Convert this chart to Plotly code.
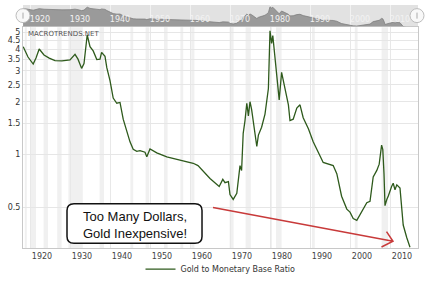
import plotly.graph_objects as go
import math

# ---- data ----
years = [1918.3, 1919.5, 1920.8, 1921.5, 1922.3, 1923.5, 1924.8, 1926.25, 1928.0, 1930.0, 1931.25,
         1932.0, 1932.9, 1933.5, 1934.3, 1935.0, 1935.8, 1936.7, 1937.5, 1937.9, 1938.75, 1939.2,
         1940.0, 1940.8, 1941.7, 1942.5, 1943.3, 1944.2, 1945.0, 1945.8, 1946.7, 1947.5, 1948.75,
         1949.2, 1950.0, 1951.7, 1954.2, 1957.5, 1960.8, 1962.0, 1965.0, 1967.3, 1968.2, 1968.75,
         1969.6, 1970.0, 1970.8, 1971.7, 1972.5, 1972.9, 1973.3, 1973.75, 1974.2, 1974.6, 1975.0,
         1975.4, 1976.7, 1977.1, 1977.9, 1978.75, 1979.2, 1979.6, 1980.0, 1980.4, 1980.7, 1981.25,
         1981.7, 1982.3, 1982.9, 1983.75, 1984.6, 1985.0, 1985.8, 1986.7, 1987.5, 1988.3, 1989.6,
         1990.8, 1992.5, 1993.3, 1995.8, 1996.7, 1997.9, 1999.2, 2000.0, 2000.8, 2001.7, 2002.9,
         2004.2, 2005.0, 2005.8, 2006.7, 2007.3, 2007.9, 2008.2, 2008.5, 2008.75, 2009.2, 2009.6,
         2010.4, 2010.8, 2011.25, 2011.7, 2012.5, 2012.9, 2013.3, 2014.2, 2015.0]
ratio = [4.12, 3.6, 3.28, 3.55, 4.0, 3.7, 3.55, 3.43, 3.42, 3.47, 3.73,
         3.5, 3.10, 3.3, 4.81, 4.12, 3.9, 3.48, 3.5, 3.83, 3.63, 3.13,
         2.64, 2.1, 1.96, 1.98, 1.59, 1.35, 1.18, 1.07, 1.04, 1.05, 1.03,
         0.97, 1.075, 1.02, 0.967, 0.927, 0.89, 0.863, 0.729, 0.656, 0.72, 0.69,
         0.70, 0.59, 0.553, 0.60, 0.863, 0.81, 1.32, 1.56, 1.96, 1.66, 2.0,
         1.81, 1.11, 1.29, 1.43, 1.70, 2.0, 2.38, 5.08, 4.3, 4.77, 3.63,
         2.82, 2.05, 2.94, 2.38, 1.92, 1.56, 1.59, 1.84, 1.92, 1.62, 1.40,
         1.18, 0.98, 0.90, 0.863, 0.776, 0.577, 0.487, 0.468, 0.43, 0.42, 0.468,
         0.53, 0.54, 0.744, 0.81, 0.88, 1.13, 1.065, 0.776, 0.51, 0.553, 0.58,
         0.655, 0.684, 0.628, 0.67, 0.642, 0.468, 0.395, 0.334, 0.295]
recessions = [(1918.7, 1919.2), (1920.1, 1921.5), (1923.4, 1924.5), (1926.8, 1927.9),
              (1929.6, 1933.2), (1937.4, 1938.5), (1945.1, 1945.8), (1948.9, 1949.8),
              (1953.5, 1954.4), (1957.6, 1958.3), (1960.3, 1961.1), (1969.9, 1970.9),
              (1973.9, 1975.2), (1980.0, 1980.5), (1981.5, 1982.9), (1990.5, 1991.2),
              (2001.2, 2001.9), (2007.9, 2009.5)]
decades = [1920, 1930, 1940, 1950, 1960, 1970, 1980, 1990, 2000, 2010]
ytick_vals = [0.5, 1, 1.5, 2, 2.5, 3, 3.5, 4, 4.5, 5]
ytick_text = ["0.5", "1", "1.5", "2", "2.5", "3", "3.5", "4", "4.5", "5"]
series_name = "Gold to Monetary Base Ratio"
note_text = "Too Many Dollars,<br>Gold Inexpensive!"

XR = [1918.25, 2017.0]
font_f = "DejaVu Sans"

fig = go.Figure()

# navigator baseline + area
fig.add_trace(go.Scatter(x=[XR[0], XR[1]], y=[0.05, 0.05], xaxis="x2", yaxis="y2",
                         mode="lines", line=dict(width=0), showlegend=False, hoverinfo="skip"))
fig.add_trace(go.Scatter(x=years, y=ratio, xaxis="x2", yaxis="y2", mode="lines",
                         line=dict(width=0.8, color="#7f7f7f"), fill="tonexty",
                         fillcolor="#9a9a9a", showlegend=False, hoverinfo="skip"))

# main line
fig.add_trace(go.Scatter(x=years, y=ratio, mode="lines", name=series_name,
                         line=dict(color="#2e5a1c", width=1.3)))

shapes = []
# navigator background
shapes.append(dict(type="rect", xref="paper", yref="paper", x0=0, x1=1, y0=0.9127, y1=1.0,
                   fillcolor="#e2e2e2", line=dict(width=0), layer="below"))
# recession bands
for a, b in recessions:
    shapes.append(dict(type="rect", xref="x", yref="y domain", x0=a, x1=b, y0=0, y1=1,
                       fillcolor="#f0f0f0", line=dict(width=0), layer="below"))

# rounded note box (paper coordinates)
bx0, bx1, by0, by1 = 0.1114, 0.4532, 0.0198, 0.1825
rx, ry = 7 / 395, 7 / 252
path = (f"M {bx0+rx},{by1} L {bx1-rx},{by1} Q {bx1},{by1} {bx1},{by1-ry} "
        f"L {bx1},{by0+ry} Q {bx1},{by0} {bx1-rx},{by0} L {bx0+rx},{by0} "
        f"Q {bx0},{by0} {bx0},{by0+ry} L {bx0},{by1-ry} Q {bx0},{by1} {bx0+rx},{by1} Z")
shapes.append(dict(type="path", xref="paper", yref="paper", path=path,
                   fillcolor="white", line=dict(color="#111111", width=1.5)))
# red arrow
ax0, ay0, ax1, ay1 = 0.481, 0.1667, 0.9367, 0.0278
arrow = (f"M {ax0},{ay0} L {ax1},{ay1} M 0.9203,0.0675 L {ax1},{ay1} L 0.9076,0.004")
shapes.append(dict(type="path", xref="paper", yref="paper", path=arrow,
                   line=dict(color="#c83a3a", width=1.5)))
# navigator handles
for xp in [0.0, 0.9975]:
    shapes.append(dict(type="circle", xref="paper", yref="paper", xsizemode="pixel",
                       ysizemode="pixel", xanchor=xp, yanchor=0.9563,
                       x0=-7, x1=7, y0=-7, y1=7, fillcolor="#f8f8f8",
                       line=dict(color="#bdbdbd", width=1)))
    shapes.append(dict(type="line", xref="paper", yref="paper", xsizemode="pixel",
                       ysizemode="pixel", xanchor=xp, yanchor=0.9563,
                       x0=0, x1=0, y0=-3, y1=3, line=dict(color="#aaaaaa", width=1)))

annotations = [
    dict(text="MACROTRENDS.NET", xref="paper", yref="paper", x=0.008, y=0.905,
         xanchor="left", yanchor="top", showarrow=False,
         font=dict(family=font_f, size=7, color="#555555")),
    dict(text=note_text, xref="paper", yref="paper", x=0.2848, y=0.0933,
         xanchor="center", yanchor="middle", showarrow=False, align="left",
         font=dict(family="Liberation Sans", size=13, color="#111111")),
]

fig.update_layout(
    width=426, height=289,
    margin=dict(l=23, r=8, t=5, b=32),
    paper_bgcolor="white", plot_bgcolor="rgba(0,0,0,0)",
    font=dict(family=font_f, size=8, color="#444444"),
    shapes=shapes, annotations=annotations,
    showlegend=True,
    legend=dict(orientation="h", x=0.5, xanchor="center", y=-0.087, yanchor="middle",
                font=dict(family=font_f, size=8, color="#333333"), bgcolor="rgba(0,0,0,0)"),
    xaxis=dict(range=XR, domain=[0, 1], anchor="y", tickvals=decades,
               ticktext=[str(d) for d in decades], ticks="", ticklabelshift=12,
               showgrid=True, gridcolor="#e8e8e8", gridwidth=1,
               showline=True, linecolor="#c8c8c8", linewidth=1, mirror=True,
               zeroline=False, tickfont=dict(size=8, color="#444444")),
    yaxis=dict(type="log", range=[math.log10(0.292), math.log10(5.33)], domain=[0, 0.9087],
               anchor="x", tickvals=ytick_vals, ticktext=ytick_text, ticks="",
               showgrid=True, gridcolor="#e6e6e6", gridwidth=1,
               showline=True, linecolor="#c8c8c8", linewidth=1, mirror=True,
               zeroline=False, tickfont=dict(size=8, color="#333333")),
    xaxis2=dict(range=XR, domain=[0, 1], anchor="y2", tickvals=decades,
                ticktext=[str(d) for d in decades], ticks="", ticklabelposition="inside",
                ticklabelshift=10, showgrid=True, gridcolor="rgba(255,255,255,0.55)",
                showline=False, zeroline=False,
                tickfont=dict(size=8, color="#f2f2f2")),
    yaxis2=dict(type="log", range=[math.log10(0.41), math.log10(6.4)], domain=[0.9127, 1.0],
                anchor="x2", showticklabels=False, showgrid=False, zeroline=False,
                showline=False),
)

fig.write_html("out.html")
